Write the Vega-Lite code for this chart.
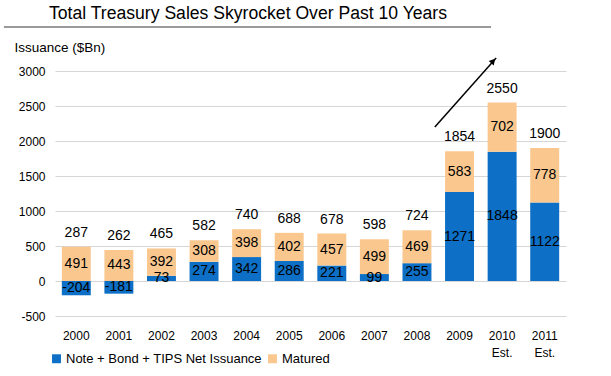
{
  "$schema": "https://vega.github.io/schema/vega-lite/v6.json",
  "width": 511,
  "height": 245,
  "autosize": "none",
  "padding": {"left": 55, "top": 71, "right": 45, "bottom": 60},
  "background": "white",
  "config": {
    "font": "Liberation Sans",
    "view": {"stroke": null},
    "axis": {"labelColor": "black", "titleColor": "black"},
    "axisY": {
      "labelOverlap": false, "grid": true, "gridColor": "#d6d6d6", "gridWidth": 1.1,
      "domain": false, "ticks": false, "labelFontSize": 12, "labelPadding": 10,
      "labelExpr": "toString(datum.value)",
      "titleAngle": 0, "titleAlign": "left", "titleBaseline": "alphabetic",
      "titleX": -41, "titleY": -20, "titleFontSize": 13.5, "titleFontWeight": "normal"
    }
  },
  "title": {
    "text": "Total Treasury Sales Skyrocket Over Past 10 Years",
    "anchor": "start",
    "frame": "group",
    "fontSize": 17.6,
    "fontWeight": "normal",
    "color": "black",
    "dx": -6,
    "offset": 3
  },
  "datasets": {
    "main": [
      {"year": "2000", "series": "Note + Bond + TIPS Net Issuance", "value": -204, "total": 287},
      {"year": "2000", "series": "Matured", "value": 491, "total": 287},
      {"year": "2001", "series": "Note + Bond + TIPS Net Issuance", "value": -181, "total": 262},
      {"year": "2001", "series": "Matured", "value": 443, "total": 262},
      {"year": "2002", "series": "Note + Bond + TIPS Net Issuance", "value": 73, "total": 465},
      {"year": "2002", "series": "Matured", "value": 392, "total": 465},
      {"year": "2003", "series": "Note + Bond + TIPS Net Issuance", "value": 274, "total": 582},
      {"year": "2003", "series": "Matured", "value": 308, "total": 582},
      {"year": "2004", "series": "Note + Bond + TIPS Net Issuance", "value": 342, "total": 740},
      {"year": "2004", "series": "Matured", "value": 398, "total": 740},
      {"year": "2005", "series": "Note + Bond + TIPS Net Issuance", "value": 286, "total": 688},
      {"year": "2005", "series": "Matured", "value": 402, "total": 688},
      {"year": "2006", "series": "Note + Bond + TIPS Net Issuance", "value": 221, "total": 678},
      {"year": "2006", "series": "Matured", "value": 457, "total": 678},
      {"year": "2007", "series": "Note + Bond + TIPS Net Issuance", "value": 99, "total": 598},
      {"year": "2007", "series": "Matured", "value": 499, "total": 598},
      {"year": "2008", "series": "Note + Bond + TIPS Net Issuance", "value": 255, "total": 724},
      {"year": "2008", "series": "Matured", "value": 469, "total": 724},
      {"year": "2009", "series": "Note + Bond + TIPS Net Issuance", "value": 1271, "total": 1854},
      {"year": "2009", "series": "Matured", "value": 583, "total": 1854},
      {"year": "2010 Est.", "series": "Note + Bond + TIPS Net Issuance", "value": 1848, "total": 2550},
      {"year": "2010 Est.", "series": "Matured", "value": 702, "total": 2550},
      {"year": "2011 Est.", "series": "Note + Bond + TIPS Net Issuance", "value": 1122, "total": 1900},
      {"year": "2011 Est.", "series": "Matured", "value": 778, "total": 1900}
    ],
    "arrow": [
      {"x": 8.92, "y": 2200, "x2": 10.36, "y2": 3186}
    ],
    "arrowhead": [
      {"x": 10.29, "y": 3143}
    ],
    "underline": [
      {"x": -1.2, "y": 3629, "x2": 10.24, "y2": 3629}
    ]
  },
  "layer": [
    {
      "data": {"name": "main"},
      "transform": [
        {"stack": "value", "groupby": ["year"], "sort": [{"field": "series", "order": "descending"}], "as": ["y0", "y1"]},
        {"calculate": "(datum.y0 + datum.y1) / 2", "as": "mid"}
      ],
      "layer": [
        {
          "mark": {"type": "bar"},
          "encoding": {
            "x": {
              "field": "year", "type": "nominal", "sort": null,
              "scale": {"paddingInner": 0.32, "paddingOuter": 0.16},
              "axis": {
                "title": null, "domain": false, "ticks": false, "labelAngle": 0,
                "labelFontSize": 12, "labelPadding": 14, "labelLineHeight": 17,
                "labelExpr": "split(datum.value, ' ')"
              }
            },
            "y": {
              "field": "y0", "type": "quantitative",
              "scale": {"domain": [-500, 3000], "nice": false},
              "axis": {"title": "Issuance ($Bn)", "values": [-500, 0, 500, 1000, 1500, 2000, 2500, 3000]}
            },
            "y2": {"field": "y1"},
            "color": {
              "field": "series", "type": "nominal",
              "scale": {"domain": ["Note + Bond + TIPS Net Issuance", "Matured"], "range": ["#0d6fc5", "#fac88f"]},
              "legend": {
                "title": null, "orient": "none", "direction": "horizontal",
                "legendX": -5, "legendY": 281, "symbolType": "square", "symbolSize": 80,
                "symbolStrokeWidth": 0, "labelFontSize": 13, "labelColor": "black", "labelLimit": 0,
                "columnPadding": 4, "labelOffset": 3
              }
            }
          }
        },
        {
          "mark": {"type": "text", "fontSize": 14, "color": "black", "baseline": "middle"},
          "encoding": {
            "x": {"field": "year", "type": "nominal", "sort": null},
            "y": {"field": "mid", "type": "quantitative", "axis": {"title": "Issuance ($Bn)", "values": [-500, 0, 500, 1000, 1500, 2000, 2500, 3000]}},
            "text": {"field": "value", "type": "nominal"}
          }
        },
        {
          "transform": [{"filter": "datum.series == 'Matured'"}],
          "mark": {"type": "text", "fontSize": 14, "color": "black", "baseline": "middle", "dy": -14},
          "encoding": {
            "x": {"field": "year", "type": "nominal", "sort": null},
            "y": {"field": "y1", "type": "quantitative", "axis": {"title": "Issuance ($Bn)", "values": [-500, 0, 500, 1000, 1500, 2000, 2500, 3000]}},
            "text": {"field": "total", "type": "nominal"}
          }
        }
      ]
    },
    {
      "data": {"name": "arrow"},
      "mark": {"type": "rule", "color": "black", "strokeWidth": 1.5},
      "encoding": {
        "x": {"field": "x", "type": "quantitative", "scale": {"domain": [0, 12], "nice": false, "zero": false}, "axis": null},
        "x2": {"field": "x2"},
        "y": {"field": "y", "type": "quantitative", "axis": {"title": "Issuance ($Bn)", "values": [-500, 0, 500, 1000, 1500, 2000, 2500, 3000]}},
        "y2": {"field": "y2"}
      }
    },
    {
      "data": {"name": "arrowhead"},
      "mark": {"type": "point", "shape": "triangle-up", "filled": true, "color": "black", "opacity": 1, "size": 45, "angle": 41.5},
      "encoding": {
        "x": {"field": "x", "type": "quantitative", "scale": {"domain": [0, 12], "nice": false, "zero": false}, "axis": null},
        "y": {"field": "y", "type": "quantitative", "axis": {"title": "Issuance ($Bn)", "values": [-500, 0, 500, 1000, 1500, 2000, 2500, 3000]}}
      }
    },
    {
      "data": {"name": "underline"},
      "mark": {"type": "rule", "color": "#9a9a9a", "strokeWidth": 2},
      "encoding": {
        "x": {"field": "x", "type": "quantitative", "scale": {"domain": [0, 12], "nice": false, "zero": false}, "axis": null},
        "x2": {"field": "x2"},
        "y": {"field": "y", "type": "quantitative", "axis": {"title": "Issuance ($Bn)", "values": [-500, 0, 500, 1000, 1500, 2000, 2500, 3000]}},
        "y2": {"field": "y2"}
      }
    }
  ],
  "resolve": {"scale": {"x": "independent"}}
}
